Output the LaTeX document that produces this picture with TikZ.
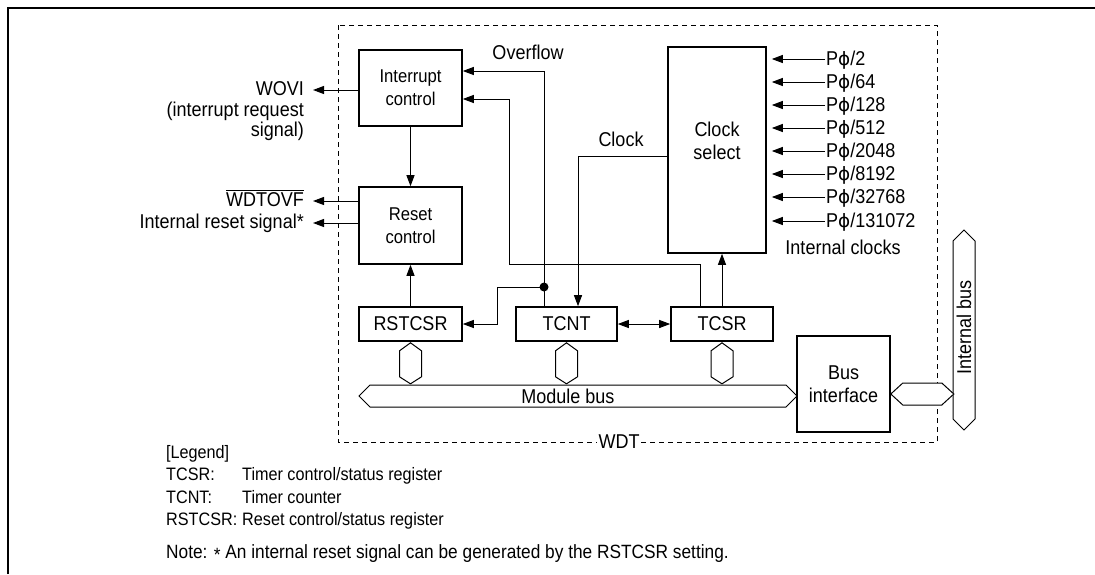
\documentclass[tikz,border=0pt]{standalone}
\usepackage{fontspec}
\setmainfont{Liberation Sans}[FakeStretch=0.9]
\newfontfamily\phifont{DejaVu Sans}[Scale=0.92]
\newcommand{\myphi}{{\phifont ϕ}}
\usetikzlibrary{arrows.meta}
\begin{document}
\begin{tikzpicture}[x=1pt,y=-1pt,
  every node/.style={inner sep=0pt, font=\fontsize{20}{23}\selectfont},
  blk/.style={draw, line width=1.6pt, inner sep=0pt, align=center},
  ln/.style={line width=1pt},
  arr/.style={ln, -{Triangle[length=11pt,width=8pt]}},
  darr/.style={ln, {Triangle[length=11pt,width=8pt]}-{Triangle[length=11pt,width=8pt]}},
  bus/.style={draw, line width=1pt, fill=white, line join=miter},
  outerframe/.style={line width=2.2pt},
  wdtbox/.style={line width=0.9pt, dash pattern=on 5pt off 4pt},
  cond/.style={font=\fontsize{18.5}{23}\selectfont},
  leg/.style={font=\fontsize{18}{21}\selectfont, anchor=base west},
]
\useasboundingbox (0,0) rectangle (1095,574);
% outer frame
\draw[outerframe] (8,574) -- (8,8) -- (1095,8);
% WDT dashed box
\draw[wdtbox] (338,25) rectangle (937,442);
\node[fill=white, inner sep=2pt] (wdt) at (619,442) {WDT};

% blocks
\node[blk, cond, minimum width=103pt, minimum height=76pt] (ic) at (410.5,88) {Interrupt\\control};
\node[blk, cond, minimum width=103pt, minimum height=77pt] (rc) at (410.5,225.5) {Reset\\control};
\node[blk, minimum width=103pt, minimum height=34pt] (rst) at (410.5,324) {RSTCSR};
\node[blk, minimum width=101pt, minimum height=34pt] (tcnt) at (566.5,324) {TCNT};
\node[blk, minimum width=102pt, minimum height=34pt] (tcsr) at (722,324) {TCSR};
\node[blk, minimum width=98pt, minimum height=206pt] (cs) at (717,150) {};
\node[align=center] (cslbl) at (717,141) {Clock\\select};
\node[blk, minimum width=93pt, minimum height=96pt] (bi) at (843.5,384) {Bus\\interface};

% buses
\draw[bus] (359,396) -- (370,385) -- (786,385) -- (797,396) -- (786,407) -- (370,407) -- cycle;
\node (mbus) at (568,396) {Module bus};
\foreach \n in {rst,tcnt,tcsr}
  \draw[bus] ([yshift=-1pt]\n.south) -- ++(11,8) -- ++(0,26) -- ++(-11,7) -- ++(-11,-7) -- ++(0,-26) -- cycle;
\draw[bus] (964,230) -- (975,241) -- (975,419) -- (964,430) -- (953,419) -- (953,241) -- cycle;
\node[rotate=90] (ibus) at (964,327) {Internal bus};
\draw[bus] (bi.east |- 0,394) -- ++(12,-11) -- ++(39,0) -- ++(12,11) -- ++(-12,11) -- ++(-39,0) -- cycle;

% left outputs
\coordinate (wo) at (313,90);
\coordinate (wd) at (313,201);
\coordinate (ir) at (313,223);
\node[anchor=base east] (wovi) at (304,95) {WOVI};
\node[anchor=base east] (wovi2) at (304,116) {(interrupt request};
\node[anchor=base east] (wovi3) at (304,136) {signal)};
\node[anchor=base east] (wdtovf) at (304,206) {$\overline{\mbox{WDTOVF}}$};
\node[anchor=base east] (irs) at (304,228) {Internal reset signal*};
\draw[arr] (ic.west |- wo) -- (wo);
\draw[arr] (rc.west |- wd) -- (wd);
\draw[arr] (rc.west |- ir) -- (ir);

% internal connections
\draw[arr] (ic) -- (rc);
\draw[arr] (rst) -- (rc);
\node (ovf) at (528,52) {Overflow};
\draw[arr] (tcnt.north -| 544,0) |- (ic.east |- 0,71);
\coordinate (dot) at (544,287);
\fill (dot) circle (4.5pt);
\draw[arr] (dot) -- (dot -| 497,0) |- (rst.east);
\draw[arr] (tcsr.north -| 700,0) |- (509,264) |- (ic.east |- 0,99);
\node (clk) at (621,139) {Clock};
\draw[arr] (cs.west |- 0,156) -| (tcnt.north -| 578,0);
\draw[darr] (tcnt) -- (tcsr);
\draw[arr] (tcsr.north) -- (tcsr.north |- cs.south);

% clock inputs
\foreach \y/\t [count=\i] in {59/2,82/64,105/128,128/512,151/2048,174/8192,197/32768,221/131072} {
  \coordinate (c\i) at (825,\y);
  \node[anchor=base west] (p\i) at (826,\y+6.5) {P\myphi/\t};
  \draw[arr, shorten >=5pt] (c\i) -- (cs.east |- c\i);
}
\node (ick) at (843,247) {Internal clocks};

% legend
\node[leg] (lg) at (166,458) {[Legend]};
\node[leg] (l1) at (166,480) {TCSR:};
\node[leg] (d1) at (242,480) {Timer control/status register};
\node[leg] (l2) at (166,503) {TCNT:};
\node[leg] (d2) at (242,503) {Timer counter};
\node[leg] (l3) at (166,525) {RSTCSR:};
\node[leg] (d3) at (242,525) {Reset control/status register};
\node[leg, font=\fontsize{19.2}{22}\selectfont] (nt) at (166,558) {Note: \raisebox{-0.3ex}{*} An internal reset signal can be generated by the RSTCSR setting.};
\end{tikzpicture}
\end{document}
